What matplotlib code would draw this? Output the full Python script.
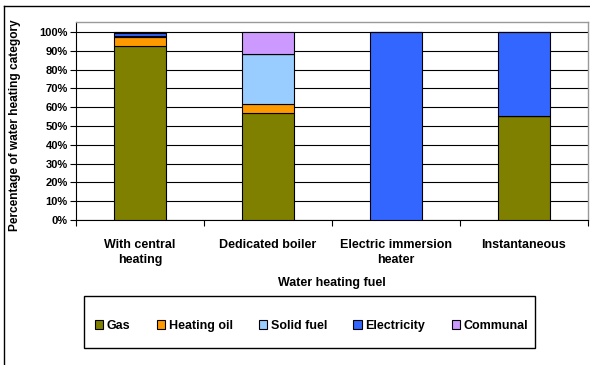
import matplotlib
matplotlib.use("Agg")
import matplotlib.pyplot as plt
from matplotlib.patches import Rectangle
from matplotlib.lines import Line2D
import numpy as np

plt.rcParams['font.family'] = ['Liberation Sans', 'DejaVu Sans']
plt.rcParams['font.weight'] = 'bold'

# categories and stacked series (percent of each water heating category)
categories = ['With central\nheating', 'Dedicated boiler', 'Electric immersion\nheater', 'Instantaneous']
fuels = ['Gas', 'Heating oil', 'Solid fuel', 'Electricity', 'Communal']
gas = [92.5, 56.7, 0.0, 55.5]
heating_oil = [4.8, 5.0, 0.0, 0.0]
solid_fuel = [0.7, 26.4, 0.0, 0.0]
electricity = [1.2, 0.0, 100.0, 44.5]
communal = [0.8, 11.9, 0.0, 0.0]
colours = ['#808000', '#FF9900', '#99CCFF', '#3366FF', '#CC99FF']
y_ticks = [0, 10, 20, 30, 40, 50, 60, 70, 80, 90, 100]

W, H = 590, 365
fig = plt.figure(figsize=(W / 100, H / 100), dpi=100)

# outer chart border (only left and top visible in the crop)
fig.add_artist(Line2D([4 / W, 4 / W], [0, 1 - 6 / H], color='black', lw=1.0))
fig.add_artist(Line2D([4 / W, 1], [1 - 6 / H, 1 - 6 / H], color='black', lw=1.0))

# plot area
left, right, top, bottom = 76, 588, 22.5, 220
ax = fig.add_axes([left / W, 1 - bottom / H, (right - left) / W, (bottom - top) / H])

x = np.arange(len(categories))
series = [gas, heating_oil, solid_fuel, electricity, communal]
base = np.zeros(len(categories))
handles = []
for name, vals, col in zip(fuels, series, colours):
    vals = np.array(vals)
    b = ax.bar(x, vals, width=0.41, bottom=base, color=col, edgecolor='black',
               linewidth=0.8, zorder=3, label=name)
    handles.append(b)
    base = base + vals

ax.set_xlim(-0.5, len(categories) - 0.5)
ax.set_ylim(0, 105)
ax.set_yticks(y_ticks)
ax.set_yticklabels([f'{v}%' for v in y_ticks], fontsize=8, fontweight='bold')
ax.yaxis.grid(True, color='black', lw=0.8, zorder=0)
ax.set_axisbelow(True)

# category boundaries as major ticks, names as minor tick labels
ax.set_xticks(np.arange(len(categories) + 1) - 0.5)
ax.set_xticklabels([])
ax.set_xticks(x, minor=True)
ax.set_xticklabels(categories, minor=True, fontsize=9, fontweight='bold', linespacing=1.3)
ax.tick_params(axis='x', which='major', length=4, width=0.8, direction='out')
ax.tick_params(axis='x', which='minor', length=0, pad=14)
ax.tick_params(axis='y', length=4, width=0.8, direction='out', pad=2)

for s in ['left', 'bottom']:
    ax.spines[s].set_color('black')
    ax.spines[s].set_linewidth(0.8)
for s in ['top', 'right']:
    ax.spines[s].set_color('#999999')
    ax.spines[s].set_linewidth(1.0)

ax.set_xlabel('Water heating fuel', fontsize=9, fontweight='bold', labelpad=8)
fig.text(15 / W, 1 - 125 / H, 'Percentage of water heating category', rotation=90,
         ha='center', va='center', fontsize=8.6, fontweight='bold')

# legend box
lx0, lx1, ly0, ly1 = 84, 535, 296, 348
fig.add_artist(Rectangle((lx0 / W, 1 - ly1 / H), (lx1 - lx0) / W, (ly1 - ly0) / H,
                         transform=fig.transFigure, fill=False, edgecolor='black', lw=1.0))
fig.legend(handles=handles, labels=fuels, ncol=5, frameon=False, mode='expand',
           bbox_to_anchor=(95 / W, 1 - 332 / H, (528 - 95) / W, 20 / H), loc='lower left',
           prop={'size': 9, 'weight': 'bold'}, handlelength=0.65, handleheight=0.65,
           handletextpad=0.3, borderaxespad=0, borderpad=0)

fig.savefig('out.png', dpi=100)
